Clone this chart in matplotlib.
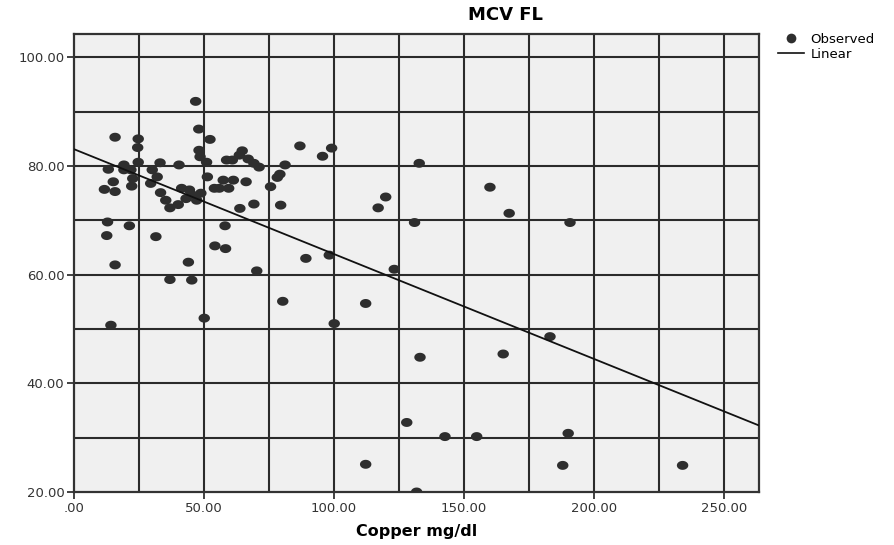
import matplotlib
matplotlib.use("Agg")
import matplotlib.pyplot as plt
from matplotlib.lines import Line2D
import numpy as np

copper = [46.8, 48.0, 15.8, 24.7, 52.3, 24.5, 48.1, 86.9, 99.1, 95.6, 64.7,
          58.7, 60.9, 63.6, 67.0, 69.2, 71.2, 48.5, 51.0, 24.7, 33.1, 40.4,
          81.2, 132.8, 19.2, 13.2, 19.2, 21.9, 30.1, 51.3, 79.2, 78.2, 22.6,
          32.0, 15.1, 22.2, 29.5, 57.4, 61.3, 66.2, 54.0, 55.9, 59.5, 75.6,
          11.7, 15.8, 41.4, 44.4, 48.8, 33.3, 35.3, 40.1, 36.9, 43.1, 45.3,
          47.2, 63.8, 69.2, 79.5, 117.0, 119.9, 12.9, 131.0, 21.3, 58.1, 12.6,
          31.5, 54.2, 58.3, 89.2, 98.2, 15.8, 44.0, 70.3, 123.2, 36.9, 45.3,
          80.3, 112.2, 50.1, 14.2, 100.1, 133.1, 128.0, 142.7, 112.2, 131.8,
          160.0, 167.4, 190.8, 183.1, 165.1, 154.9, 190.1, 188.0, 234.1]
mcv = [91.9, 86.8, 85.3, 85.0, 84.9, 83.4, 82.9, 83.7, 83.3, 81.8, 82.8,
       81.1, 81.1, 82.0, 81.3, 80.5, 79.8, 81.7, 80.7, 80.7, 80.6, 80.2,
       80.2, 80.5, 80.2, 79.4, 79.3, 79.3, 79.3, 78.0, 78.5, 77.9, 77.7,
       78.0, 77.1, 76.3, 76.8, 77.4, 77.4, 77.1, 75.9, 75.9, 75.9, 76.2,
       75.7, 75.3, 75.9, 75.6, 75.0, 75.1, 73.7, 72.9, 72.3, 74.0, 74.7,
       73.7, 72.2, 73.0, 72.8, 72.3, 74.3, 69.7, 69.6, 69.0, 69.0, 67.2,
       67.0, 65.3, 64.8, 63.0, 63.6, 61.8, 62.3, 60.7, 61.0, 59.1, 59.0,
       55.1, 54.7, 52.0, 50.7, 51.0, 44.8, 32.8, 30.2, 25.1, 20.0,
       76.1, 71.3, 69.6, 48.6, 45.4, 30.2, 30.8, 24.9, 24.9]

fit_intercept = 83.1
fit_slope = -0.193

x_ticks = [0, 50, 100, 150, 200, 250]
x_tick_labels = [".00", "50.00", "100.00", "150.00", "200.00", "250.00"]
y_ticks = [20, 40, 60, 80, 100]
y_tick_labels = ["20.00", "40.00", "60.00", "80.00", "100.00"]

fig = plt.figure(figsize=(8.94, 5.45), dpi=100)
ax = fig.add_axes([74/894, 1-492/545, (759-74)/894, (492-34)/545])
ax.set_facecolor("#f0f0f0")
xmin, xmax = 0, 263.5
ymin, ymax = 20, 104.3
ax.set_xlim(xmin, xmax)
ax.set_ylim(ymin, ymax)

grid_color = "#2b2b2b"
for gx in np.arange(25, xmax, 25):
    ax.axvline(gx, color=grid_color, lw=1.5, zorder=1)
for gy in np.arange(30, ymax, 10):
    ax.axhline(gy, color=grid_color, lw=1.5, zorder=1)

# slightly wide ellipse marker like the reference
t = np.linspace(0, 2*np.pi, 40)
ell = np.column_stack([1.15*np.cos(t), 0.9*np.sin(t)])
ax.scatter(copper, mcv, s=68, marker=ell, color="#2e2e2e", edgecolors="none", zorder=3)
xl = np.array([xmin, xmax])
ax.plot(xl, fit_intercept + fit_slope * xl, color="#111111", lw=1.3, zorder=4)

ax.set_xticks(x_ticks)
ax.set_xticklabels(x_tick_labels)
ax.set_yticks(y_ticks)
ax.set_yticklabels(y_tick_labels)
ax.tick_params(direction="out", length=5, width=1.3, color="#333333",
               labelsize=9.5, labelcolor="#333333", pad=2)
for sp in ax.spines.values():
    sp.set_color("#333333")
    sp.set_linewidth(1.6)

ax.set_xlabel("Copper mg/dl", fontsize=11.5, fontweight="bold", labelpad=7)
fig.text(505/894, 1-15/545, "MCV FL", ha="center", va="center",
         fontsize=13, fontweight="bold")

handles = [Line2D([0], [0], marker="o", color="none", markerfacecolor="#2e2e2e",
                  markeredgecolor="none", markersize=7),
           Line2D([0], [0], color="#111111", lw=1.2)]
fig.legend(handles, ["Observed", "Linear"], loc="upper left",
           bbox_to_anchor=(778/894, 1-33/545), frameon=False, fontsize=9.5,
           handlelength=2.0, handletextpad=0.45, labelspacing=0.15,
           borderaxespad=0, borderpad=0)

fig.savefig("out.png", dpi=100)
